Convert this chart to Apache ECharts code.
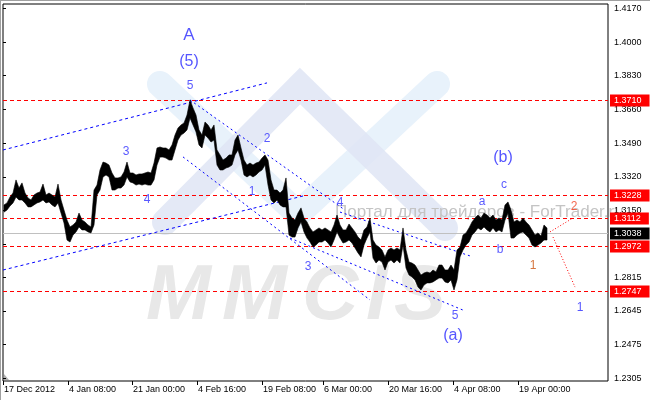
<!DOCTYPE html>
<html><head><meta charset="utf-8">
<script src="https://cdn.jsdelivr.net/npm/echarts@6/dist/echarts.min.js"></script>
<style>html,body{margin:0;padding:0;background:#fff}#c{width:650px;height:400px}</style>
</head><body><div id="c"></div>
<script>
// ---- price bars (H4 bars sampled every 3 bars), high / low ----
const barStart = 1, barStep = 3;
const highs = [
1.3179,1.3189,1.3219,1.3239,1.3305,1.3264,1.3290,1.3239,1.3214,1.3204,
1.3229,1.3239,1.3244,1.3284,1.3229,1.3239,1.3229,1.3219,1.3284,1.3204,
1.3153,1.3103,1.3068,1.3078,1.3093,1.3138,1.3103,1.3093,1.3078,1.3068,
1.3254,1.3279,1.3355,1.3395,1.3390,1.3380,1.3340,1.3315,1.3315,1.3320,
1.3345,1.3395,1.3340,1.3340,1.3330,1.3335,1.3335,1.3340,1.3345,1.3340,
1.3390,1.3466,1.3471,1.3466,1.3466,1.3456,1.3481,1.3531,1.3567,1.3582,
1.3592,1.3632,1.3708,1.3668,1.3632,1.3557,1.3531,1.3597,1.3582,1.3557,
1.3582,1.3456,1.3431,1.3405,1.3415,1.3431,1.3431,1.3506,1.3531,1.3466,
1.3405,1.3380,1.3390,1.3380,1.3390,1.3395,1.3415,1.3431,1.3405,1.3305,
1.3254,1.3254,1.3239,1.3254,1.3315,1.3138,1.3113,1.3103,1.3138,1.3164,
1.3113,1.3093,1.3063,1.3043,1.3053,1.3063,1.3053,1.3063,1.3053,1.3043,
1.3078,1.3128,1.3078,1.3053,1.3053,1.3083,1.3063,1.3043,1.3017,1.3002,
1.3053,1.3068,1.3113,1.3002,1.2977,1.2967,1.2952,1.2917,1.2952,1.2962,
1.2952,1.2962,1.2952,1.3063,1.2952,1.2891,1.2886,1.2876,1.2851,1.2826,
1.2836,1.2841,1.2836,1.2851,1.2841,1.2876,1.2876,1.2851,1.2851,1.2876,
1.2851,1.2952,1.2967,1.3027,1.3038,1.3063,1.3093,1.3113,1.3128,1.3113,
1.3138,1.3128,1.3113,1.3128,1.3103,1.3113,1.3103,1.3179,1.3194,1.3153,
1.3093,1.3103,1.3093,1.3113,1.3093,1.3078,1.3053,1.3027,1.3038,1.3022,
1.3078,1.3063];
const lows = [
1.3143,1.3153,1.3174,1.3189,1.3219,1.3204,1.3204,1.3189,1.3169,1.3169,
1.3179,1.3189,1.3194,1.3204,1.3189,1.3194,1.3179,1.3169,1.3189,1.3138,
1.3088,1.3002,1.2992,1.3027,1.3043,1.3068,1.3053,1.3053,1.3043,1.3038,
1.3078,1.3229,1.3254,1.3320,1.3330,1.3320,1.3254,1.3254,1.3264,1.3264,
1.3279,1.3320,1.3295,1.3290,1.3279,1.3284,1.3279,1.3284,1.3279,1.3279,
1.3305,1.3380,1.3420,1.3420,1.3415,1.3405,1.3405,1.3456,1.3506,1.3531,
1.3541,1.3557,1.3617,1.3582,1.3547,1.3481,1.3466,1.3531,1.3516,1.3496,
1.3506,1.3380,1.3355,1.3355,1.3365,1.3370,1.3380,1.3431,1.3456,1.3405,
1.3330,1.3320,1.3330,1.3320,1.3330,1.3345,1.3355,1.3380,1.3279,1.3204,
1.3189,1.3204,1.3179,1.3169,1.3169,1.3027,1.3017,1.3017,1.3063,1.3093,
1.3043,1.3012,1.2992,1.2967,1.2977,1.2992,1.2992,1.3002,1.2987,1.2967,
1.3002,1.3043,1.3012,1.2987,1.2992,1.3002,1.2987,1.2962,1.2937,1.2917,
1.2977,1.3012,1.3043,1.2911,1.2886,1.2901,1.2891,1.2851,1.2891,1.2901,
1.2886,1.2901,1.2886,1.2977,1.2861,1.2826,1.2816,1.2801,1.2765,1.2750,
1.2775,1.2786,1.2786,1.2791,1.2801,1.2811,1.2811,1.2791,1.2786,1.2801,
1.2750,1.2801,1.2917,1.2952,1.2977,1.2992,1.3027,1.3043,1.3063,1.3053,
1.3068,1.3053,1.3043,1.3063,1.3043,1.3053,1.3043,1.3103,1.3138,1.3012,
1.3012,1.3027,1.3038,1.3043,1.3027,1.3012,1.2977,1.2967,1.2977,1.2987,
1.3002,1.3002];

// ---- axes ----
const yTicks = [1.4170,1.4000,1.3830,1.3660,1.3490,1.3320,1.3150,1.2980,1.2815,1.2645,1.2475,1.2305];
const xTicks = [0,65,129,194,259,320,385,450,515];
const xLabels = ['17 Dec 2012','4 Jan 08:00','21 Jan 00:00','4 Feb 16:00','19 Feb 08:00','6 Mar 00:00','20 Mar 16:00','4 Apr 08:00','19 Apr 00:00'];

// ---- horizontal levels ----
const redLevels = [1.3710,1.3228,1.3112,1.2972,1.2747];
const currentPrice = 1.3038;

// ---- trend / channel lines [x1, p1, x2, p2] ----
const longLines = [[0,1.3456,264,1.3794],[0,1.2851,300,1.3224]];
const channelLines = [[187,1.3708,342,1.3153],[337,1.3143,467,1.2922],[180,1.3421,367,1.2700],[287,1.3012,460,1.2649]];
const projLines = [[547,1.3043,570,1.3113],[550,1.3017,572,1.2765]];

// ---- wave labels [text, x, price, color, size] ----
const waveLabels = [
['A',186,1.4035,'#2b2bff',17],['(5)',186,1.3899,'#2b2bff',16],['5',187,1.3778,'#3030ff',12],
['3',123,1.3446,'#3030ff',12],['4',144,1.3204,'#3030ff',12],['2',264,1.3511,'#3030ff',12],
['1',249,1.3244,'#3030ff',12],['3',305,1.2866,'#3030ff',12],['4',337,1.3189,'#3030ff',12],
['5',452,1.2619,'#3030ff',12],['(a)',450,1.2518,'#2b2bff',16],['(b)',500,1.3416,'#2b2bff',16],
['c',501,1.3279,'#3030ff',12],['a',479,1.3194,'#3030ff',12],['b',497,1.2952,'#3030ff',12],
['1',530,1.2871,'#cc5511',12],['2',571,1.3169,'#f04020',12],['1',577,1.2660,'#2b2bff',12]];

const FONT = 'Tahoma, "Liberation Sans", Arial, sans-serif';
const X_MAX = 605;
const chart = echarts.init(document.getElementById('c'), null, {renderer:'canvas'});

// level items: [price, lineColor, dash(0 = solid), labelBg]
const levelItems = redLevels.map(v=>[v,'#ff0000',1,'#ff0000']).concat([[currentPrice,'#c0c0c0',0,'#000000']]);
// segment items: [x1,p1,x2,p2, color, dashIndex]
const DASHES = [[3,3],[2,3],[1,2]];
const segItems = longLines.map(l=>l.concat(['#0000ff',0]))
  .concat(channelLines.map(l=>l.concat(['#0000ff',1])))
  .concat(projLines.map(l=>l.concat(['#ff0000',2])));

const logoCyan = '#e8f2fb', logoLav = '#dfe5f5';
const mmcis = [['M',146],['M',222],['C',302],['I',366],['S',394]];

chart.setOption({
  animation:false,
  backgroundColor:'#fff',
  grid:{left:3, top:4, width:605, height:377, show:true, borderColor:'#000', borderWidth:1, backgroundColor:'transparent'},
  graphic:[
    {type:'polyline', z:-10, silent:true, shape:{points:[[160,84],[298,214],[437,84]]}, style:{stroke:logoCyan, lineWidth:26, lineCap:'round', lineJoin:'miter', fill:null}},
    {type:'polyline', z:-9, silent:true, shape:{points:[[165,222],[300,86],[445,228]]}, style:{stroke:logoLav, lineWidth:26, lineCap:'round', lineJoin:'miter', fill:null, opacity:0.85}},
    ...mmcis.map(m=>({type:'text', z:-8, silent:true, x:m[1], y:297, style:{text:m[0], fill:'#e8e8e8', font:'italic bold 78px "Liberation Sans", Arial, sans-serif', verticalAlign:'middle'}})),
    {type:'text', z:-7, silent:true, x:335, y:212, style:{text:'Портал для трейдеров - ForTrader.ru', fill:'#c4c4c4', font:'17px "Liberation Sans", Arial, sans-serif', verticalAlign:'middle'}},
    {type:'polygon', silent:true, shape:{points:[[4,374],[4,380],[9,380]]}, style:{fill:'#b0b0b0'}},
    {type:'line', silent:true, shape:{x1:0,y1:0.5,x2:650,y2:0.5}, style:{stroke:'#a0a0a0',lineWidth:1}},
    {type:'line', silent:true, shape:{x1:0.5,y1:0,x2:0.5,y2:400}, style:{stroke:'#a0a0a0',lineWidth:1}}
  ],
  xAxis:{type:'value', min:0, max:X_MAX, position:'bottom',
    axisLine:{show:false}, splitLine:{show:false},
    axisTick:{show:true, length:4, lineStyle:{color:'#000'}, customValues:xTicks},
    axisLabel:{customValues:xTicks, formatter:v=>xLabels[xTicks.indexOf(v)], align:'left', margin:4,
      color:'#000', fontSize:9, fontFamily:FONT, padding:[0,0,0,1]}},
  yAxis:{type:'value', min:1.22916, max:1.41916, position:'right', scale:true,
    axisLine:{show:false}, splitLine:{show:false},
    axisTick:{show:true, length:3, lineStyle:{color:'#000'}, customValues:yTicks},
    axisLabel:{customValues:yTicks, formatter:v=>v.toFixed(4), margin:6, color:'#000', fontSize:9, fontFamily:FONT}},
  series:[
    // price path
    {type:'custom', z:5, silent:true, clip:true,
     data: highs.map((h,i)=>[barStart+barStep*i, h, lows[i]]),
     renderItem:(params, api)=>{
       if (params.dataIndex !== 0) return null;
       const top = highs.map((h,i)=>api.coord([barStart+barStep*i, h]));
       const bot = lows.map((l,i)=>api.coord([barStart+barStep*i, l])).reverse();
       return {type:'polygon', shape:{points:top.concat(bot)}, style:{fill:'#000', stroke:'#000', lineWidth:0.6, lineJoin:'miter'}};
     }},
    // horizontal levels with right-side price boxes
    {type:'custom', z:3, silent:true, clip:false,
     data: levelItems.map(d=>[0, d[0]]),
     renderItem:(params, api)=>{
       const d = levelItems[params.dataIndex];
       const p = api.coord([0, d[0]]), q = api.coord([X_MAX, d[0]]);
       const y = Math.round(p[1]) + 0.5;
       return {type:'group', children:[
         {type:'line', shape:{x1:p[0], y1:y, x2:q[0], y2:y}, style:{stroke:d[1], lineWidth:1, lineDash:d[2]?[4,3]:null}},
         {type:'text', x:q[0]+2, y:y, z2:10, style:{text:d[0].toFixed(4), fill:'#fff', backgroundColor:d[3],
           padding:[1,8,1,4], font:'9px ' + FONT, verticalAlign:'middle', align:'left', lineHeight:10}}
       ]};
     }},
    // trend / channel / projection lines
    {type:'custom', z:4, silent:true, clip:true,
     data: segItems.map(s=>[s[0], s[1], s[2], s[3]]),
     renderItem:(params, api)=>{
       const s = segItems[params.dataIndex];
       const a = api.coord([s[0], s[1]]), b = api.coord([s[2], s[3]]);
       return {type:'line', shape:{x1:a[0], y1:a[1], x2:b[0], y2:b[1]}, style:{stroke:s[4], lineWidth:1, lineDash:DASHES[s[5]]}};
     }},
    // wave labels
    {type:'scatter', z:6, silent:true, symbolSize:0,
     data: waveLabels.map(w=>({value:[w[1],w[2]], label:{show:true, position:'inside', formatter:w[0], color:w[3], fontSize:w[4], fontFamily:'"Liberation Sans", Arial, sans-serif'}}))}
  ]
});
</script></body></html>
